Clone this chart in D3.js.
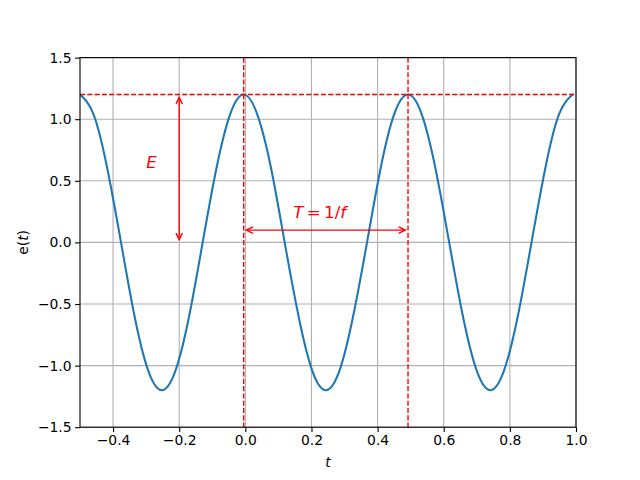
<!DOCTYPE html>
<html>
<head>
<meta charset="utf-8" />
<style>
body { margin: 0; background: #fff; }
text { font-family: "DejaVu Sans", sans-serif; }
.grid line { stroke: #b0b0b0; stroke-width: 1.1px; }
.axis path, .axis line { stroke: #000; stroke-width: 1.1px; }
.axis text { font-size: 13.9px; fill: #000; }
</style>
</head>
<body>
<script src="https://cdn.jsdelivr.net/npm/d3@7"></script>
<script>
// samples (30 degree steps of phase)
var tValues = [-0.5, -0.459, -0.4175, -0.376, -0.335, -0.294, -0.2525, -0.211, -0.17, -0.129, -0.0875, -0.046, -0.005,
               0.036, 0.078, 0.119, 0.161, 0.202, 0.2435, 0.285, 0.326, 0.368, 0.409, 0.45, 0.492,
               0.5335, 0.575, 0.6165, 0.658, 0.6995, 0.741, 0.7825, 0.824, 0.8655, 0.907, 0.9485, 0.99];
var eValues = [1.2, 1.039, 0.6, 0, -0.6, -1.039, -1.2, -1.039, -0.6, 0, 0.6, 1.039, 1.2,
               1.039, 0.6, 0, -0.6, -1.039, -1.2, -1.039, -0.6, 0, 0.6, 1.039, 1.2,
               1.039, 0.6, 0, -0.6, -1.039, -1.2, -1.039, -0.6, 0, 0.6, 1.039, 1.2];
var peakTimes = [-0.005, 0.492];
var amplitude = 1.2;
var ampArrowT = -0.2;
var periodArrowE = 0.1;
var xTicks = [-0.4, -0.2, 0.0, 0.2, 0.4, 0.6, 0.8, 1.0];
var yTicks = [-1.5, -1.0, -0.5, 0.0, 0.5, 1.0, 1.5];

var width = 640, height = 480;
var mLeft = 80, mRight = 576, mTop = 57.6, mBottom = 427.2;

var svg = d3.select("body").append("svg")
    .attr("width", width)
    .attr("height", height);

var x = d3.scaleLinear().domain([-0.5, 1.0]).range([mLeft, mRight]);
var y = d3.scaleLinear().domain([-1.5, 1.5]).range([mBottom, mTop]);

function fmt(d) {
    var s = d3.format(".1f")(Math.abs(d));
    return d < 0 ? "\u2212" + s : s;
}

svg.append("defs").append("clipPath").attr("id", "clip")
  .append("rect")
    .attr("x", mLeft).attr("y", mTop)
    .attr("width", mRight - mLeft).attr("height", mBottom - mTop);

// grid
var grid = svg.append("g").attr("class", "grid");
grid.selectAll(".gx").data(xTicks).enter().append("line")
    .attr("x1", function(d) { return x(d); })
    .attr("x2", function(d) { return x(d); })
    .attr("y1", mTop).attr("y2", mBottom);
grid.selectAll(".gy").data(yTicks).enter().append("line")
    .attr("y1", function(d) { return y(d); })
    .attr("y2", function(d) { return y(d); })
    .attr("x1", mLeft).attr("x2", mRight);

var plot = svg.append("g").attr("clip-path", "url(#clip)");

// the signal
var pts = tValues.map(function(t, i) { return [t, eValues[i]]; });
plot.append("path")
    .datum(pts)
    .attr("fill", "none")
    .attr("stroke", "#1f77b4")
    .attr("stroke-width", 2.08)
    .attr("stroke-linecap", "square")
    .attr("d", d3.line()
        .x(function(d) { return x(d[0]); })
        .y(function(d) { return y(d[1]); })
        .curve(d3.curveNatural));

// dashed guides
plot.append("line")
    .attr("x1", mLeft).attr("x2", mRight)
    .attr("y1", y(amplitude)).attr("y2", y(amplitude))
    .attr("stroke", "red").attr("stroke-width", 1.39)
    .attr("stroke-dasharray", "5.1,2.2");
plot.selectAll(".vdash").data(peakTimes).enter().append("line")
    .attr("x1", function(d) { return x(d); })
    .attr("x2", function(d) { return x(d); })
    .attr("y1", mTop).attr("y2", mBottom)
    .attr("stroke", "red").attr("stroke-width", 1.39)
    .attr("stroke-dasharray", "5.1,2.2");

// double headed arrows
var headLen = 6.5, headHalf = 3.2, shrink = 2.8;
function arrow(x1, y1, x2, y2) {
    var dx = x2 - x1, dy = y2 - y1, len = Math.sqrt(dx * dx + dy * dy);
    var ux = dx / len, uy = dy / len;
    var ax = x1 + ux * shrink, ay = y1 + uy * shrink;
    var bx = x2 - ux * shrink, by = y2 - uy * shrink;
    var g = svg.append("g")
        .attr("fill", "none").attr("stroke", "red").attr("stroke-width", 1.39);
    g.append("path").attr("d", "M" + ax + "," + ay + "L" + bx + "," + by);
    g.append("path").attr("d",
        "M" + (bx - ux * headLen - uy * headHalf) + "," + (by - uy * headLen + ux * headHalf) +
        "L" + bx + "," + by +
        "L" + (bx - ux * headLen + uy * headHalf) + "," + (by - uy * headLen - ux * headHalf));
    g.append("path").attr("d",
        "M" + (ax + ux * headLen - uy * headHalf) + "," + (ay + uy * headLen + ux * headHalf) +
        "L" + ax + "," + ay +
        "L" + (ax + ux * headLen + uy * headHalf) + "," + (ay + uy * headLen - ux * headHalf));
}
arrow(x(ampArrowT), y(0), x(ampArrowT), y(amplitude));
arrow(x(peakTimes[0]), y(periodArrowE), x(peakTimes[1]), y(periodArrowE));

// annotations
svg.append("text")
    .attr("x", x(-0.3)).attr("y", y(0.6))
    .attr("fill", "red")
    .style("font-size", "16.7px")
    .style("font-style", "italic")
    .text("E");

var tl = svg.append("text")
    .attr("x", x(0.145)).attr("y", y(0.2))
    .attr("fill", "red")
    .style("font-size", "16.7px");
tl.append("tspan").style("font-style", "italic").text("T");
tl.append("tspan").text("\u2009=\u20091/");
tl.append("tspan").style("font-style", "italic").text("f");

// axes
svg.append("g")
    .attr("class", "axis")
    .attr("transform", "translate(0," + mBottom + ")")
    .call(d3.axisBottom(x).tickValues(xTicks).tickFormat(fmt).tickSize(4.9).tickPadding(3.5).tickSizeOuter(0));
svg.append("g")
    .attr("class", "axis")
    .attr("transform", "translate(" + mLeft + ",0)")
    .call(d3.axisLeft(y).tickValues(yTicks).tickFormat(fmt).tickSize(4.9).tickPadding(3.5).tickSizeOuter(0));
svg.selectAll(".axis .domain").remove();

// frame
svg.append("rect")
    .attr("x", mLeft).attr("y", mTop)
    .attr("width", mRight - mLeft).attr("height", mBottom - mTop)
    .attr("fill", "none").attr("stroke", "#000").attr("stroke-width", 1.1);

svg.append("text")
    .attr("x", (mLeft + mRight) / 2).attr("y", 467)
    .attr("text-anchor", "middle")
    .style("font-size", "13.9px").style("font-style", "italic")
    .text("t");

svg.append("text")
    .attr("transform", "translate(28," + ((mTop + mBottom) / 2) + ") rotate(-90)")
    .attr("text-anchor", "middle")
    .style("font-size", "13.9px")
    .html("e(<tspan font-style='italic'>t</tspan>)");
</script>
</body>
</html>
